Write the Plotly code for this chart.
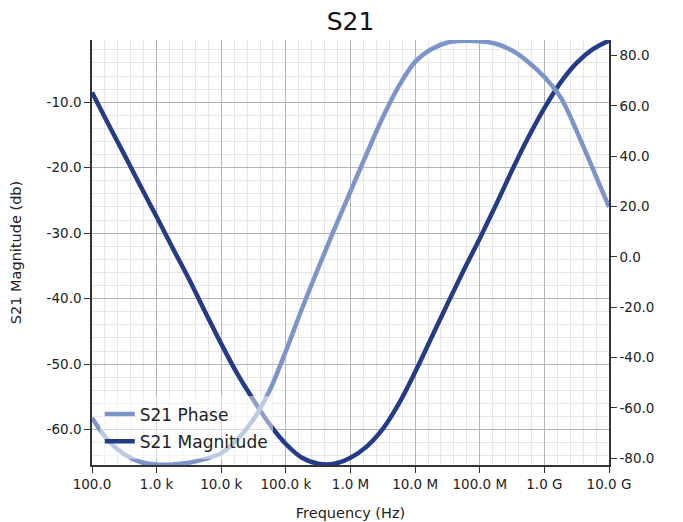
import plotly.graph_objects as go

# frequencies every quarter decade, 100 Hz .. 10 GHz
freq_hz = [1e2, 1.778e2, 3.162e2, 5.623e2,
           1e3, 1.778e3, 3.162e3, 5.623e3,
           1e4, 1.778e4, 3.162e4, 5.623e4,
           1e5, 1.778e5, 3.162e5, 5.623e5,
           1e6, 1.778e6, 3.162e6, 5.623e6,
           1e7, 1.778e7, 3.162e7, 5.623e7,
           1e8, 1.778e8, 3.162e8, 5.623e8,
           1e9, 1.778e9, 3.162e9, 5.623e9,
           1e10]

# S21 magnitude (dB)
s21_mag = [-8.5, -13.3, -18.0, -22.8,
           -27.5, -32.3, -37.0, -42.0,
           -46.9, -51.5, -55.5, -59.2,
           -62.2, -64.3, -65.2, -65.2,
           -64.3, -62.6, -59.9, -56.0,
           -51.2, -46.0, -40.8, -35.7,
           -30.8, -25.7, -20.4, -15.4,
           -10.9, -7.0, -4.0, -1.9,
           -0.6]

# S21 phase (deg)
s21_phase = [-64.0, -73.0, -78.5, -81.5,
             -82.5, -82.5, -81.8, -80.3,
             -78.0, -72.5, -64.5, -53.0,
             -37.4, -20.5, -4.5, 11.0,
             26.0, 41.0, 55.5, 68.0,
             77.5, 82.5, 85.2, 85.9,
             85.7, 84.7, 82.0, 77.5,
             71.5, 63.5, 50.0, 35.0,
             19.9]

x_tickvals = [1e2, 1e3, 1e4, 1e5, 1e6, 1e7, 1e8, 1e9, 1e10]
x_ticktext = ['100.0', '1.0 k', '10.0 k', '100.0 k', '1.0 M', '10.0 M', '100.0 M', '1.0 G', '10.0 G']
mag_ticks = [-10, -20, -30, -40, -50, -60]
phase_ticks = [-80, -60, -40, -20, 0, 20, 40, 60, 80]

# minor grid: 4 evenly spaced lines per decade (log space)
x_minor = [10 ** (d + k / 5) for d in range(2, 10) for k in range(1, 5)]

fig = go.Figure()
fig.add_trace(go.Scatter(x=freq_hz, y=s21_phase, name='S21 Phase', yaxis='y2', legendgroup='p',
                         mode='lines', line=dict(color='#7d94c8', width=4.5, shape='spline', smoothing=1.0)))
fig.add_trace(go.Scatter(x=freq_hz, y=s21_mag, name='S21 Magnitude', legendgroup='m',
                         mode='lines', line=dict(color='#243c88', width=4.5, shape='spline', smoothing=1.0)))

# the page body adds an 8px offset, so the figure is 8px smaller and margins shifted
W, H = 675, 514
font = 'DejaVu Sans'
fig.update_layout(
    width=W, height=H,
    margin=dict(l=84, r=74, t=32, b=57, autoexpand=False),
    paper_bgcolor='white', plot_bgcolor='white',
    font=dict(family=font, size=13, color='#222'),
    title=dict(text='S21', x=0.5, xref='paper', y=1 - 13 / H, yref='container', yanchor='middle',
               font=dict(family=font, size=25, color='#111')),
    showlegend=True,
    legend=dict(x=0.015, y=0.013, xanchor='left', yanchor='bottom',
                bgcolor='rgba(255,255,255,0.5)', font=dict(family=font, size=17, color='#222'),
                itemwidth=30, tracegroupgap=2),
    xaxis=dict(type='log', range=[2, 10], tickmode='array', tickvals=x_tickvals, ticktext=x_ticktext,
               showgrid=True, gridcolor='#b5b5b5', gridwidth=1, automargin=False,
               minor=dict(tickmode='array', tickvals=x_minor, showgrid=True, gridcolor='#e6e6e6', ticks=''),
               ticks='outside', ticklen=6, tickcolor='#333', showline=True, linecolor='#333', linewidth=1.5,
               zeroline=False,
               title=dict(text='Frequency (Hz)', font=dict(family=font, size=14.5), standoff=17),
               tickfont=dict(size=13.5)),
    yaxis=dict(range=[-65.4, -0.5], tickmode='array', tickvals=mag_ticks,
               ticktext=['%.1f' % v for v in mag_ticks],
               showgrid=True, gridcolor='#b5b5b5', gridwidth=1, automargin=False,
               minor=dict(dtick=2, tick0=0, showgrid=True, gridcolor='#e6e6e6', ticks=''),
               ticks='outside', ticklen=6, tickcolor='#333', showline=True, linecolor='#333', linewidth=1.5,
               zeroline=False,
               title=dict(text='S21 Magnitude (db)', font=dict(family=font, size=14.5), standoff=33),
               tickfont=dict(size=13.5)),
    yaxis2=dict(overlaying='y', side='right', range=[-82.7, 86.2], tickmode='array', tickvals=phase_ticks,
                ticktext=['%.1f' % v for v in phase_ticks], automargin=False,
                showgrid=False, zeroline=False,
                ticks='outside', ticklen=6, tickcolor='#333', showline=True, linecolor='#333', linewidth=1.5,
                tickfont=dict(size=13.5)),
)

fig.write_html("out.html")
